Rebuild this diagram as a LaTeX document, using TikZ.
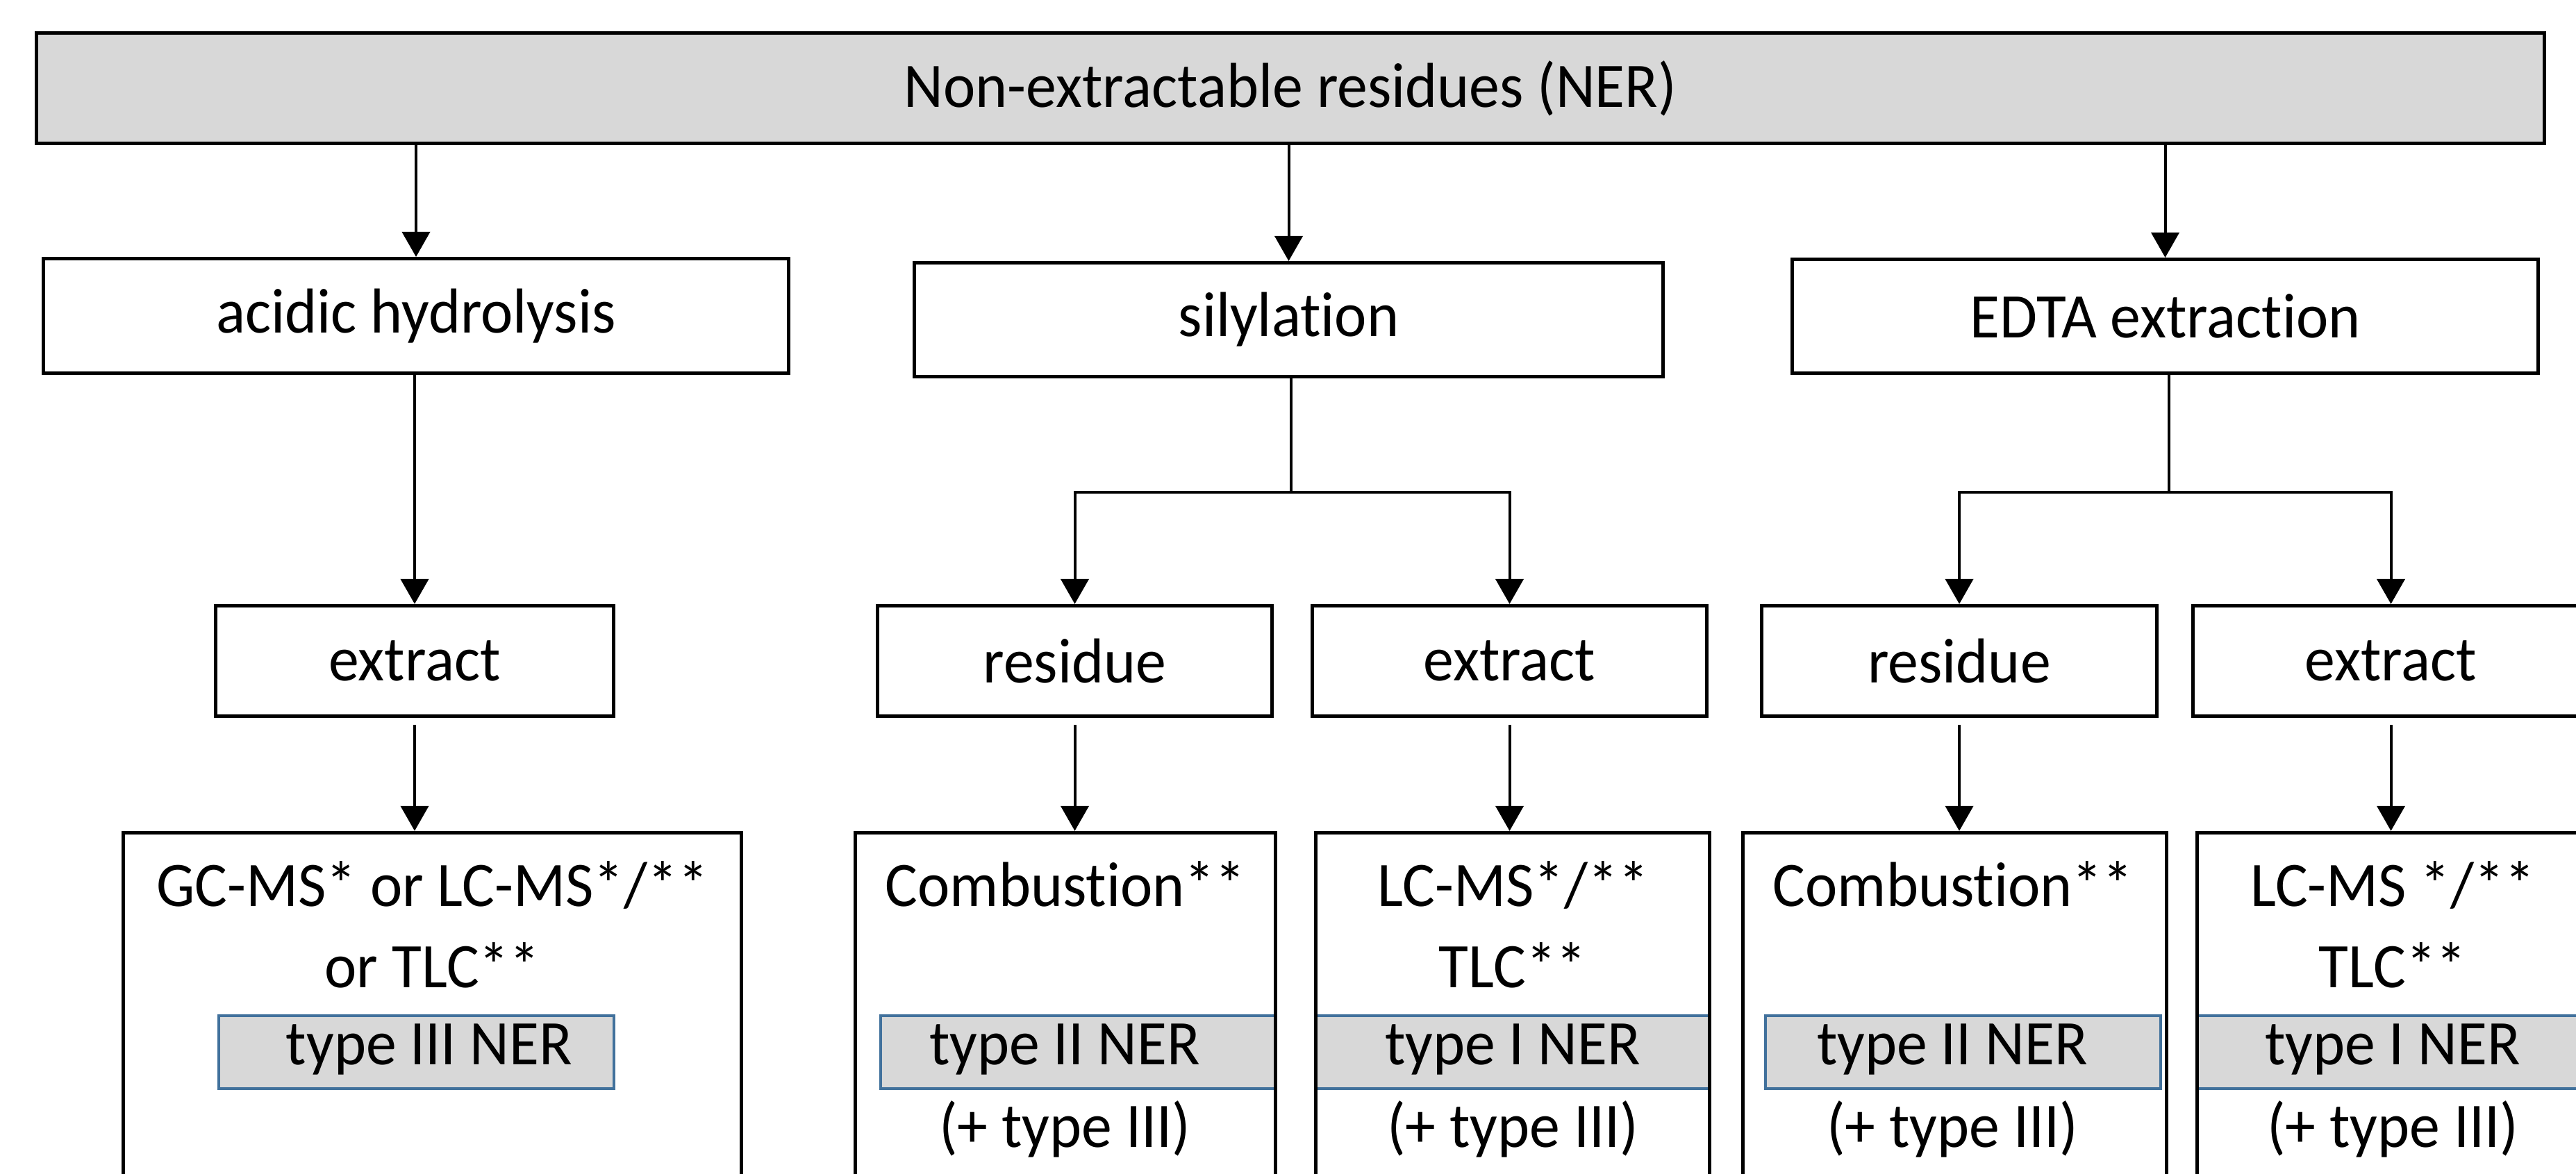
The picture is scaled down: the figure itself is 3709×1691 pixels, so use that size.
\documentclass[tikz,border=0pt]{standalone}
\usepackage{fontspec}
\setmainfont{Carlito}[FakeStretch=0.96,Ligatures={NoCommon}]
\usetikzlibrary{arrows.meta}
\definecolor{nergray}{HTML}{D8D8D8}
\definecolor{typefill}{HTML}{D8D8D8}
\definecolor{typeline}{HTML}{41719C}
\begin{document}
\begin{tikzpicture}[x=0.01cm,y=-0.01cm,
  txt/.style={font=\fontsize{26}{31}\selectfont},
  stepbox/.style={draw, line width=0.05cm, inner sep=0pt, txt},
  resultbox/.style={draw, line width=0.05cm, inner sep=0pt},
  typebox/.style={draw=typeline, fill=typefill, line width=0.045cm, inner sep=0pt},
  rowtext/.style={anchor=base, inner sep=0pt, txt},
  conn/.style={line width=0.04cm},
  arr/.style={conn, -{Triangle[width=0.4cm,length=0.36cm]}}
]
\useasboundingbox (0,0) rectangle (3709,1691);
\begin{scope}
\clip (0,0) rectangle (3709,1691);

% top level
\node[stepbox, fill=nergray, minimum width=36.09cm, minimum height=1.59cm] (ner) at (1858,127) {Non-extractable residues (NER)};

% three treatments
\node[stepbox, minimum width=10.73cm, minimum height=1.65cm] (acid) at (599,455) {acidic hydrolysis};
\node[stepbox, minimum width=10.78cm, minimum height=1.64cm] (sil) at (1855.5,460.5) {silylation};
\node[stepbox, minimum width=10.74cm, minimum height=1.64cm] (edta) at (3117.5,455.5) {EDTA extraction};

% fractions
\node[stepbox, minimum width=5.73cm, minimum height=1.59cm] (extA) at (597,952) {extract};
\node[stepbox, minimum width=5.68cm, minimum height=1.59cm] (resB) at (1547.5,952) {residue};
\node[stepbox, minimum width=5.68cm, minimum height=1.59cm] (extC) at (2173.5,952) {extract};
\node[stepbox, minimum width=5.69cm, minimum height=1.59cm] (resD) at (2821,952) {residue};
\node[stepbox, minimum width=5.70cm, minimum height=1.59cm] (extE) at (3442.5,952) {extract};

% NER type bands
\node[typebox, minimum width=5.69cm, minimum height=1.05cm] (typeA) at (599.5,1515.5) {};
\node[typebox, minimum width=5.69cm, minimum height=1.05cm] (typeB) at (1552.5,1515.5) {};
\node[typebox, minimum width=5.68cm, minimum height=1.05cm] (typeC) at (2178,1515.5) {};
\node[typebox, minimum width=5.69cm, minimum height=1.05cm] (typeD) at (2826.5,1515.5) {};
\node[typebox, minimum width=5.68cm, minimum height=1.05cm] (typeE) at (3447,1515.5) {};

% analysis boxes (running off the lower edge)
\node[resultbox, minimum width=8.90cm, minimum height=5.58cm] (botA) at (622.5,1478.5) {};
\node[resultbox, minimum width=6.05cm, minimum height=5.58cm] (botB) at (1534,1478.5) {};
\node[resultbox, minimum width=5.67cm, minimum height=5.58cm] (botC) at (2178,1478.5) {};
\node[resultbox, minimum width=6.10cm, minimum height=5.58cm] (botD) at (2814.5,1478.5) {};
\node[resultbox, minimum width=5.67cm, minimum height=5.58cm] (botE) at (3447,1478.5) {};

% texts of the analysis boxes
\node[rowtext] (a1) at (622.5,1305) {GC-MS* or LC-MS*/**};
\node[rowtext] (a2) at (622.5,1422) {or TLC**};
\node[rowtext] (a3) at (618,1533) {type III NER};

\node[rowtext] (b1) at (1534,1305) {Combustion**};
\node[rowtext] (b3) at (1533,1533) {type II NER};
\node[rowtext] (b4) at (1533,1652) {(+ type III)};

\node[rowtext] (c1) at (2179,1305) {LC-MS*/**};
\node[rowtext] (c2) at (2178,1422) {TLC**};
\node[rowtext] (c3) at (2178,1533) {type I NER};
\node[rowtext] (c4) at (2178,1652) {(+ type III)};

\node[rowtext] (d1) at (2812,1305) {Combustion**};
\node[rowtext] (d3) at (2811,1533) {type II NER};
\node[rowtext] (d4) at (2811,1652) {(+ type III)};

\node[rowtext] (e1) at (3445,1305) {LC-MS */**};
\node[rowtext] (e2) at (3445,1422) {TLC**};
\node[rowtext] (e3) at (3445,1533) {type I NER};
\node[rowtext] (e4) at (3445,1652) {(+ type III)};

% connectors
\draw[arr] (ner.south -| acid) -- (acid.north);
\draw[arr] (ner.south -| sil) -- (sil.north);
\draw[arr] (ner.south -| edta) -- (edta.north);

\draw[arr] (acid.south -| extA) -- (extA.north);

\coordinate (silj) at (1859,709);
\coordinate (edtaj) at (3123,709);
\draw[conn] (sil.south -| silj) -- (silj);
\draw[arr] (silj) -| (resB.north);
\draw[arr] (silj) -| (extC.north);
\draw[conn] (edta.south -| edtaj) -- (edtaj);
\draw[arr] (edtaj) -| (resD.north);
\draw[arr] (edtaj) -| (extE.north);

\draw[arr, shorten <=0.1cm] (extA.south) -- (extA.south |- botA.north);
\draw[arr, shorten <=0.1cm] (resB.south) -- (resB.south |- botB.north);
\draw[arr, shorten <=0.1cm] (extC.south) -- (extC.south |- botC.north);
\draw[arr, shorten <=0.1cm] (resD.south) -- (resD.south |- botD.north);
\draw[arr, shorten <=0.1cm] (extE.south) -- (extE.south |- botE.north);
\end{scope}
\end{tikzpicture}
\end{document}
